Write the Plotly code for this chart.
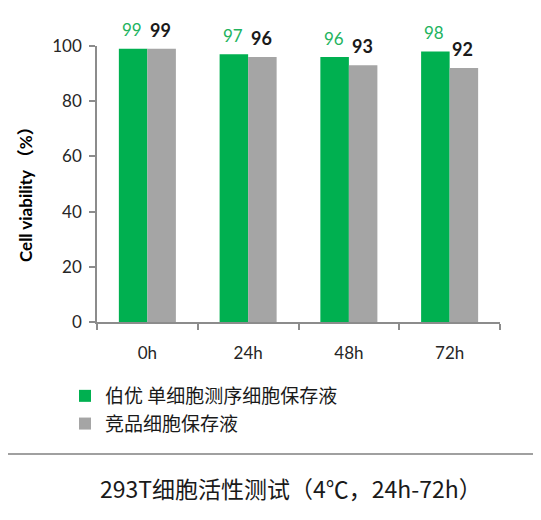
import plotly.graph_objects as go

categories = ["0h", "24h", "48h", "72h"]
series_names = ["伯优 单细胞测序细胞保存液", "竞品细胞保存液"]
boyou_values = [99, 97, 96, 98]
competitor_values = [99, 96, 93, 92]
y_ticks = [0, 20, 40, 60, 80, 100]

green = "#00B050"
gray = "#A5A5A5"
label_green = "#22B35E"
label_dark = "#1A1A1A"

# page body has an 8px margin; work in screen coordinates and convert
OFF = 8
W, H = 541 - OFF, 520 - OFF
plot_left, plot_right, plot_top, plot_bottom = 97, 500, 46, 322  # screen px
ml = plot_left - OFF
mr = W - (plot_right - OFF)
mt = plot_top - OFF
mb = H - (plot_bottom - OFF)
pw = W - ml - mr
ph = H - mt - mb


def px_x(sx):
    return (sx - plot_left) / pw


def px_y(sy):
    return (plot_bottom - sy) / ph


bargap = 0.434
half = (1 - bargap) / 4

fig = go.Figure()
fig.add_trace(go.Bar(x=categories, y=boyou_values, name=series_names[0],
                     marker=dict(color=green, line=dict(width=0))))
fig.add_trace(go.Bar(x=categories, y=competitor_values, name=series_names[1],
                     marker=dict(color=gray, line=dict(width=0))))

annotations = []
for i, (a, b) in enumerate(zip(boyou_values, competitor_values)):
    annotations.append(dict(x=i - half, y=a, xref="x", yref="y", text=str(a),
                            showarrow=False, yanchor="middle", yshift=19, xshift=-1,
                            font=dict(family="Lato", size=17, color=label_green)))
    annotations.append(dict(x=i + half, y=b, xref="x", yref="y", text="<b>%d</b>" % b,
                            showarrow=False, yanchor="middle", yshift=19, xshift=-1,
                            font=dict(family="Lato", size=18, color=label_dark)))

annotations.append(dict(x=px_x(25), y=px_y(190), xref="paper", yref="paper",
                        text="<b>Cell viability （%）</b>", textangle=-90, showarrow=False,
                        xanchor="center", yanchor="middle",
                        font=dict(family="Lato, 'Noto Sans CJK SC'", size=17, color="#000000")))
annotations.append(dict(x=px_x(291), y=px_y(488), xref="paper", yref="paper",
                        text="293T细胞活性测试（4℃，24h-72h）", showarrow=False,
                        xanchor="center", yanchor="middle",
                        font=dict(family="Noto Sans CJK SC", size=23, color="#1A1A1A")))

shapes = [dict(type="line", xref="paper", yref="paper",
               x0=px_x(0), x1=px_x(541),
               y0=px_y(454), y1=px_y(454),
               line=dict(color="#A0A0A0", width=2))]

fig.update_layout(
    width=W, height=H,
    margin=dict(l=ml, r=mr, t=mt, b=mb, autoexpand=False),
    paper_bgcolor="white", plot_bgcolor="white",
    barmode="group", bargap=bargap, bargroupgap=0,
    font=dict(family="Lato", size=17, color="#262626"),
    showlegend=True,
    legend=dict(x=px_x(65), y=px_y(377), xanchor="left", yanchor="top",
                orientation="v", itemwidth=30, bgcolor="rgba(0,0,0,0)",
                font=dict(family="Noto Sans CJK SC", size=19, color="#1A1A1A"),
                tracegroupgap=0),
    annotations=annotations,
    shapes=shapes,
)
fig.update_xaxes(showline=True, linecolor="#8C8C8C", linewidth=1.5,
                 ticks="outside", tickson="boundaries", ticklen=6, tickcolor="#8C8C8C",
                 tickwidth=1.5, ticklabelstandoff=15,
                 tickfont=dict(family="Lato", size=17, color="#262626"),
                 showgrid=False, zeroline=False)
fig.update_yaxes(range=[0, 100], tickvals=y_ticks, showline=True, linecolor="#8C8C8C",
                 linewidth=1.5, ticks="outside", ticklen=6, tickcolor="#8C8C8C", tickwidth=1.5,
                 ticklabelstandoff=4,
                 tickfont=dict(family="Lato", size=17, color="#262626"),
                 showgrid=False, zeroline=False)

fig.write_html("out.html")
